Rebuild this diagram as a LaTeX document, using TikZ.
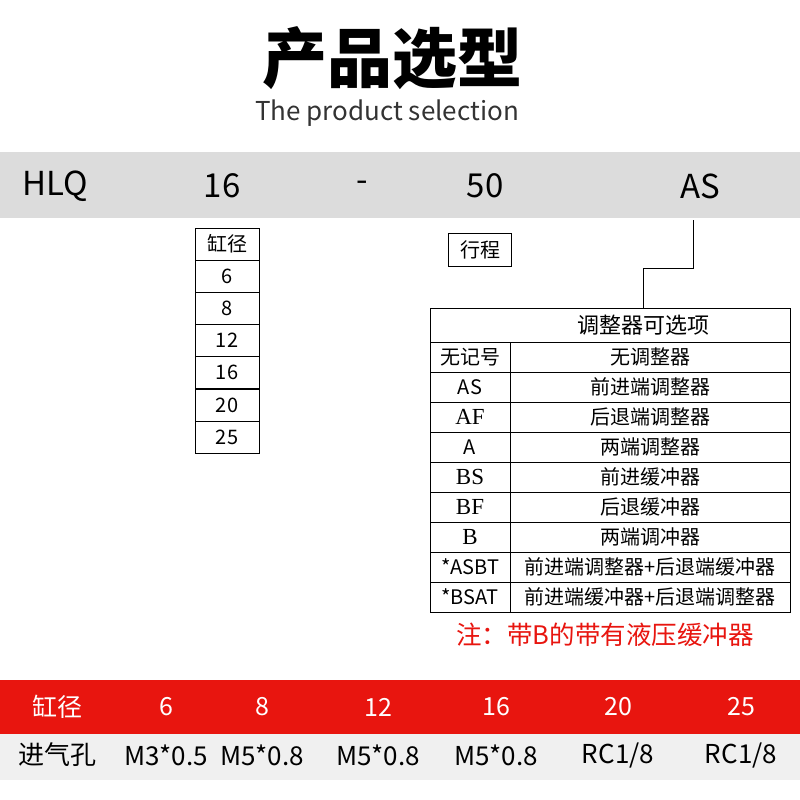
\documentclass[tikz,border=0pt]{standalone}
\usepackage{fontspec}
\setmainfont{Noto Sans CJK SC}
\newfontfamily\serifx{Liberation Serif}
\definecolor{band}{HTML}{DCDCDC}
\definecolor{redb}{HTML}{E8150F}
\definecolor{light}{HTML}{F0F0F0}
\begin{document}
\begin{tikzpicture}[x=1pt,y=-1pt,
  cell/.style={draw=black,line width=1pt,minimum height=32pt,inner sep=0pt,font=\fontsize{20}{20}\selectfont},
  tc/.style={font=\fontsize{20}{20}\selectfont,inner sep=0pt},
  wt/.style={font=\fontsize{25}{25}\selectfont,text=white,inner sep=0pt},
  bt/.style={font=\fontsize{26}{26}\selectfont,inner sep=0pt}]
\useasboundingbox (0,0) rectangle (800,800);
\fill[white] (0,0) rectangle (800,800);
\node[font=\fontsize{65}{65}\bfseries\selectfont] (title) at (392,58) {产品选型};
\node[font=\fontsize{26}{26}\selectfont,text=black!80] (sub) at (387,113) {The product selection};
\fill[band] (0,152) rectangle (800,218);
\foreach \t/\x [count=\i] in {HLQ/55,16/222,-/362,50/485,AS/700}
  \node[font=\fontsize{33}{33}\selectfont,inner sep=0pt] (h\i) at (\x,186) {\t};
\foreach \t [count=\i] in {缸径,6,8,12,16,20,25}
  \node[cell,minimum width=64pt] (b\i) at (227,{228+16+(\i-1)*32.2}) {\t};
\node[draw,line width=1pt,minimum width=63pt,minimum height=33pt,inner sep=0pt,font=\fontsize{20}{20}\selectfont] (stroke) at (480,250) {行程};
\draw[line width=1pt] (430,308) rectangle (790,612);
\node[font=\fontsize{22}{22}\selectfont] (th) at (643,325) {调整器可选项};
\coordinate (a1) at (693,220);
\coordinate (a2) at (693,268);
\coordinate (a3) at (643,268);
\coordinate (a4) at (643,308);
\draw[line width=1pt] (a1) -- (a2) -- (a3) -- (a4);
\draw[line width=1pt] (430,342) -- (790,342);
\foreach \i in {1,...,8} \draw[line width=1pt] (430,{342+\i*30}) -- (790,{342+\i*30});
\draw[line width=1pt] (510,342) -- (510,612);
\foreach \a/\b [count=\i] in {{无记号}/{无调整器},AS/{前进端调整器},{\serifx\fontsize{23}{23}\selectfont AF}/{后退端调整器},A/{两端调整器},{\serifx\fontsize{23}{23}\selectfont BS}/{前进缓冲器},{\serifx\fontsize{23}{23}\selectfont BF}/{后退缓冲器},{\serifx\fontsize{23}{23}\selectfont B}/{两端调冲器},{*ASBT}/{前进端调整器+后退端缓冲器},{*BSAT}/{前进端缓冲器+后退端调整器}}{
  \node[tc] (k\i) at (470,{357+(\i-1)*30}) {\a};
  \node[tc] (v\i) at (650,{357+(\i-1)*30}) {\b};
}
\node[font=\fontsize{25.5}{25.5}\selectfont,text=redb] (note) at (605,635) {注：带B的带有液压缓冲器};
\fill[redb] (0,680) rectangle (800,734);
\fill[light] (0,734) rectangle (800,780);
\foreach \a/\b/\x [count=\i] in {缸径/进气孔/57,6/M3*0.5/166,8/M5*0.8/262,12/M5*0.8/378,16/M5*0.8/496,20/RC1\slash 8/618,25/RC1\slash 8/741}{
  \node[wt] (r\i) at (\x,707) {\a};
  \node[bt] (s\i) at (\x,755) {\b};
}
\end{tikzpicture}
\end{document}
